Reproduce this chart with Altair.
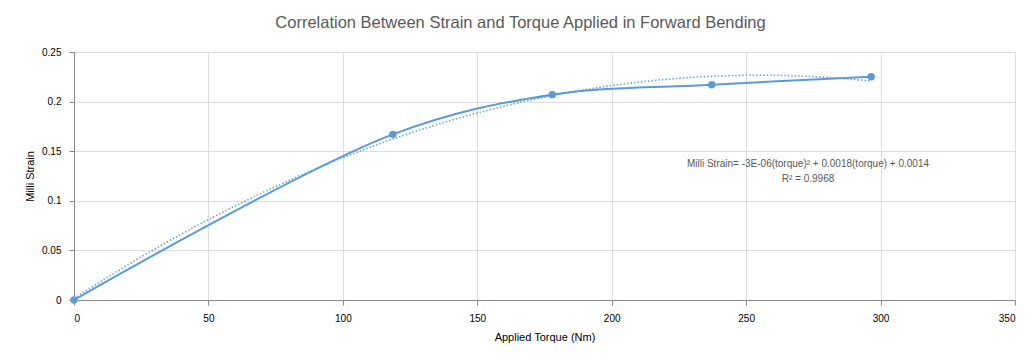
import altair as alt
import pandas as pd

torque = [0, 118.6, 177.9, 237.2, 296.5]
strain = [0.0, 0.167, 0.207, 0.217, 0.225]

note_lines = ["Milli Strain= -3E-06(torque)\u00b2 + 0.0018(torque) + 0.0014", "R\u00b2 = 0.9968"]
note_x = [273, 273]
note_y = [0.1375, 0.1215]

df = pd.DataFrame({"torque": torque, "strain": strain})
notes = pd.DataFrame({"text": note_lines, "x": note_x, "y": note_y})

FONT = "Liberation Sans"
BLUE = "#5B9BD5"
GRAY = "#595959"

xs = alt.Scale(domain=[0, 350], nice=False, zero=True)
ys = alt.Scale(domain=[0, 0.25], nice=False)

xenc = alt.X("torque:Q", scale=xs, title="Applied Torque (Nm)",
             axis=alt.Axis(values=[0, 50, 100, 150, 200, 250, 300, 350], format="d",
                           labelPadding=8, titlePadding=8, titleFontWeight="normal"))
yenc = alt.Y("strain:Q", scale=ys, title="Milli Strain",
             axis=alt.Axis(values=[0, 0.05, 0.1, 0.15, 0.2, 0.25], format="~g",
                           labelPadding=8, titlePadding=6, titleFontWeight="normal"))

base = alt.Chart(df)

line = base.mark_line(color=BLUE, strokeWidth=2, interpolate="catmull-rom").encode(x=xenc, y=yenc)
pts = base.mark_circle(color=BLUE, size=55, opacity=1).encode(x="torque:Q", y="strain:Q")
trend = base.transform_regression("torque", "strain", method="poly", order=2).mark_line(
    color=BLUE, strokeWidth=1.6, strokeDash=[1.5, 2], opacity=0.9).encode(x="torque:Q", y="strain:Q")

txt = alt.Chart(notes).mark_text(font=FONT, fontSize=10, color=GRAY, align="center").encode(
    x=alt.X("x:Q", scale=xs), y=alt.Y("y:Q", scale=ys), text="text:N")

chart = alt.layer(trend, line, pts, txt).properties(
    width=941, height=248,
    autosize=alt.AutoSizeParams(type="none"),
    padding={"left": 66, "top": 44, "right": 5, "bottom": 50},
    title=alt.TitleParams("Correlation Between Strain and Torque Applied in Forward Bending",
                          font=FONT, fontSize=16.5, fontWeight="normal", color=GRAY,
                          anchor="middle", offset=16, dx=-24),
).configure_view(stroke=None).configure_axis(
    labelFont=FONT, titleFont=FONT, labelFontSize=10, titleFontSize=11,
    labelColor=GRAY, titleColor=GRAY, titleFontWeight="normal",
    gridColor="#D9D9D9", gridWidth=1, ticks=False, domain=False,
).configure_axisX(domain=True, domainColor="#D9D9D9").configure(background="white")

chart.save("out.html", embed_options={"renderer": "svg", "actions": False})
